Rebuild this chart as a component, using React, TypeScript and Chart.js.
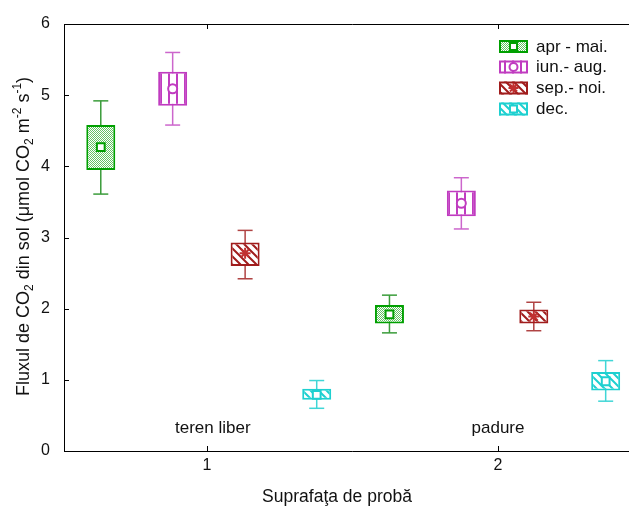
import React, { useEffect, useRef } from "react";
import { Chart, registerables } from "chart.js";
Chart.register(...registerables);

// ---- data ----
const seasons = ["apr - mai.", "iun.- aug.", "sep.- noi.", "dec."];
const surfaces = ["teren liber", "padure"];
const surfaceLabelX = [1.02, 2.0];
const surfaceLabelY = 0.32;
const xTitle = "Suprafaţa de probă";
const xTicks = [1, 2];
const yTicks = [0, 1, 2, 3, 4, 5, 6];
// x position of each box: [teren liber, padure]
const xPos = [
  [0.635, 1.627],
  [0.882, 1.874],
  [1.131, 2.123],
  [1.377, 2.37],
];
const means = [
  [4.27, 1.92],
  [5.09, 3.48],
  [2.78, 1.89],
  [0.79, 0.98],
];
const boxLow = [
  [3.95, 1.79],
  [4.85, 3.3],
  [2.6, 1.79],
  [0.72, 0.85],
];
const boxHigh = [
  [4.58, 2.05],
  [5.33, 3.66],
  [2.93, 1.99],
  [0.875, 1.11],
];
const whiskLow = [
  [3.61, 1.66],
  [4.58, 3.12],
  [2.42, 1.69],
  [0.6, 0.7],
];
const whiskHigh = [
  [4.92, 2.19],
  [5.6, 3.84],
  [3.1, 2.09],
  [0.99, 1.27],
];

// ---- styles ----
const borderColors = ["#00a000", "#c03cc0", "#a01c1c", "#1ed0d0"];
const whiskerColors = ["#3a9c3a", "#cc66cc", "#b04444", "#40d6d6"];
const markerColors = ["#00a000", "#c03cc0", "#c03030", "#1ed0d0"];
const patternKinds = ["dots", "vstripes", "diag", "diag"];
const markerStyles = ["rect", "circle", "star", "rect"];
const markerRadius = [5.5, 4.5, 5.5, 5.5];
const FONT = "'Liberation Sans', Arial, Helvetica, sans-serif";

function makePattern(kind: string, color: string): CanvasPattern | string {
  const c = document.createElement("canvas");
  let ctx: CanvasRenderingContext2D;
  if (kind === "dots") {
    c.width = 2;
    c.height = 2;
    ctx = c.getContext("2d")!;
    ctx.fillStyle = "#fff";
    ctx.fillRect(0, 0, 2, 2);
    ctx.fillStyle = "rgb(100,195,100)";
    ctx.fillRect(0, 0, 1, 1);
    ctx.fillRect(1, 1, 1, 1);
  } else if (kind === "vstripes") {
    c.width = 8;
    c.height = 8;
    ctx = c.getContext("2d")!;
    ctx.fillStyle = "#fff";
    ctx.fillRect(0, 0, 8, 8);
    ctx.fillStyle = color;
    ctx.fillRect(0, 0, 2, 8);
  } else {
    c.width = 8;
    c.height = 8;
    ctx = c.getContext("2d")!;
    ctx.fillStyle = "#fff";
    ctx.fillRect(0, 0, 8, 8);
    ctx.strokeStyle = color;
    ctx.lineWidth = 2;
    ctx.beginPath();
    ctx.moveTo(-2, -2);
    ctx.lineTo(10, 10);
    ctx.moveTo(-2, 6);
    ctx.lineTo(2, 10);
    ctx.moveTo(6, -2);
    ctx.lineTo(10, 2);
    ctx.stroke();
  }
  const p = ctx.createPattern(c, "repeat");
  return p || color;
}

function drawMarker(ctx: CanvasRenderingContext2D, style: string, x: number, y: number, r: number, color: string) {
  ctx.save();
  ctx.strokeStyle = color;
  ctx.fillStyle = "#fff";
  ctx.lineWidth = 2;
  ctx.beginPath();
  if (style === "rect") {
    const s = r * Math.SQRT1_2;
    ctx.rect(x - s, y - s, 2 * s, 2 * s);
    ctx.fill();
    ctx.stroke();
  } else if (style === "circle") {
    ctx.arc(x, y, r, 0, Math.PI * 2);
    ctx.fill();
    ctx.stroke();
  } else {
    for (let k = 0; k < 4; k++) {
      const a = (k * Math.PI) / 4;
      ctx.moveTo(x - Math.cos(a) * r, y - Math.sin(a) * r);
      ctx.lineTo(x + Math.cos(a) * r, y + Math.sin(a) * r);
    }
    ctx.stroke();
  }
  ctx.restore();
}

const yTitleParts = [
  { t: "Fluxul de CO", s: 0 },
  { t: "2", s: -1 },
  { t: " din sol (μmol CO", s: 0 },
  { t: "2", s: -1 },
  { t: " m", s: 0 },
  { t: "-2", s: 1 },
  { t: " s", s: 0 },
  { t: "-1", s: 1 },
  { t: ")", s: 0 },
];

export default function App() {
  const ref = useRef<HTMLCanvasElement>(null);
  useEffect(() => {
    const canvas = ref.current!;
    const patterns = seasons.map((_, i) => makePattern(patternKinds[i], borderColors[i]));
    const datasets: any[] = [];
    seasons.forEach((name, s) => {
      datasets.push({
        type: "scatter",
        label: name + " mean",
        data: xPos[s].map((x, i) => ({ x, y: means[s][i] })),
        pointStyle: markerStyles[s],
        pointRadius: markerRadius[s],
        backgroundColor: "#fff",
        borderColor: markerColors[s],
        borderWidth: 2,
        order: 0,
      });
      datasets.push({
        type: "bar",
        label: name,
        data: xPos[s].map((x, i) => ({ x, y: [boxLow[s][i], boxHigh[s][i]] })),
        backgroundColor: patterns[s],
        borderColor: borderColors[s],
        borderWidth: 2,
        borderSkipped: false,
        grouped: false,
        barPercentage: 1,
        maxBarThickness: 29,
        order: 1,
      });
      const wd: any[] = [];
      xPos[s].forEach((x, i) => {
        wd.push({ x, y: whiskLow[s][i] });
        wd.push({ x, y: whiskHigh[s][i] });
        wd.push({ x, y: null });
      });
      datasets.push({
        type: "line",
        label: name + " whisker",
        data: wd,
        borderColor: whiskerColors[s],
        borderWidth: 1.5,
        pointRadius: 0,
        spanGaps: false,
        order: 2,
      });
      const cd: any[] = [];
      xPos[s].forEach((x, i) => {
        cd.push({ x, y: whiskLow[s][i] });
        cd.push({ x, y: whiskHigh[s][i] });
      });
      datasets.push({
        type: "scatter",
        label: name + " cap",
        data: cd,
        pointStyle: "line",
        pointRadius: 7.5,
        borderColor: whiskerColors[s],
        borderWidth: 1.5,
        order: 2,
      });
    });

    const framePlugin = {
      id: "frame",
      afterDraw(chart: any) {
        const { ctx, chartArea, scales } = chart;
        const { left, top, bottom } = chartArea;
        const right = chart.width;
        ctx.save();
        ctx.strokeStyle = "#000";
        ctx.lineWidth = 1;
        ctx.beginPath();
        ctx.moveTo(right, top + 0.5);
        ctx.lineTo(left + 0.5, top + 0.5);
        ctx.lineTo(left + 0.5, bottom + 0.5);
        ctx.lineTo(right, bottom + 0.5);
        yTicks.forEach((v) => {
          const y = Math.round(scales.y.getPixelForValue(v)) + 0.5;
          ctx.moveTo(left, y);
          ctx.lineTo(left + 5, y);
        });
        xTicks.forEach((v) => {
          const x = Math.round(scales.x.getPixelForValue(v)) + 0.5;
          ctx.moveTo(x, bottom);
          ctx.lineTo(x, bottom - 5);
          ctx.moveTo(x, top);
          ctx.lineTo(x, top + 5);
        });
        ctx.stroke();

        // surface labels
        ctx.fillStyle = "#111";
        ctx.font = `17px ${FONT}`;
        ctx.textAlign = "center";
        ctx.textBaseline = "middle";
        surfaces.forEach((t, i) => {
          ctx.fillText(t, scales.x.getPixelForValue(surfaceLabelX[i]), scales.y.getPixelForValue(surfaceLabelY));
        });

        // x title
        ctx.font = `17.5px ${FONT}`;
        ctx.fillText(xTitle, 337, 497);

        // legend
        const lx = 499;
        const rows = [46.5, 67, 88, 109];
        seasons.forEach((t, i) => {
          const cy = rows[i];
          ctx.fillStyle = patterns[i] as any;
          ctx.fillRect(lx, cy - 6.5, 29, 13);
          ctx.strokeStyle = borderColors[i];
          ctx.lineWidth = 2;
          ctx.strokeRect(lx + 1, cy - 5.5, 27, 11);
          drawMarker(ctx, markerStyles[i], lx + 14.5, cy, markerRadius[i] - 0.5, markerColors[i]);
          ctx.fillStyle = "#111";
          ctx.font = `17px ${FONT}`;
          ctx.textAlign = "left";
          ctx.textBaseline = "middle";
          ctx.fillText(t, 536, cy + 0.5);
        });

        // y title with sub/superscripts
        const big = `18px ${FONT}`;
        const small = `12px ${FONT}`;
        let total = 0;
        yTitleParts.forEach((p) => {
          ctx.font = p.s === 0 ? big : small;
          total += ctx.measureText(p.t).width;
        });
        ctx.translate(23, 236.5);
        ctx.rotate(-Math.PI / 2);
        ctx.textAlign = "left";
        ctx.textBaseline = "alphabetic";
        ctx.fillStyle = "#111";
        let px = -total / 2;
        yTitleParts.forEach((p) => {
          ctx.font = p.s === 0 ? big : small;
          const by = p.s === 0 ? 6 : p.s < 0 ? 10 : -2;
          ctx.fillText(p.t, px, by);
          px += ctx.measureText(p.t).width;
        });
        ctx.restore();
      },
    };

    const chart = new Chart(canvas, {
      type: "bar",
      data: { datasets },
      options: {
        responsive: false,
        animation: false,
        events: [],
        layout: { padding: { left: 0, top: 24, right: 0, bottom: 2 } },
        plugins: { legend: { display: false }, tooltip: { enabled: false } },
        scales: {
          x: {
            type: "linear",
            min: 0.5086,
            max: 2.457,
            offset: false,
            grid: { display: false, drawTicks: false },
            border: { display: false },
            ticks: { color: "#111", font: { size: 16, family: FONT }, padding: 5 },
            afterBuildTicks: (scale: any) => {
              scale.ticks = xTicks.map((v) => ({ value: v }));
            },
            afterFit: (scale: any) => {
              scale.height = 58;
            },
          },
          y: {
            type: "linear",
            min: 0,
            max: 6,
            stacked: false,
            grid: { display: false, drawTicks: false },
            border: { display: false },
            ticks: { stepSize: 1, color: "#111", font: { size: 16, family: FONT }, padding: 14 },
            afterBuildTicks: (scale: any) => {
              scale.ticks = yTicks.map((v) => ({ value: v }));
            },
            afterFit: (scale: any) => {
              scale.width = 64;
            },
          },
        },
      } as any,
      plugins: [framePlugin],
    });
    return () => chart.destroy();
  }, []);
  return (
    <div style={{ position: "absolute", left: 0, top: 0, width: 629, height: 511, overflow: "hidden", background: "#fff" }}>
      <canvas ref={ref} width={640} height={511} style={{ display: "block" }} />
    </div>
  );
}
